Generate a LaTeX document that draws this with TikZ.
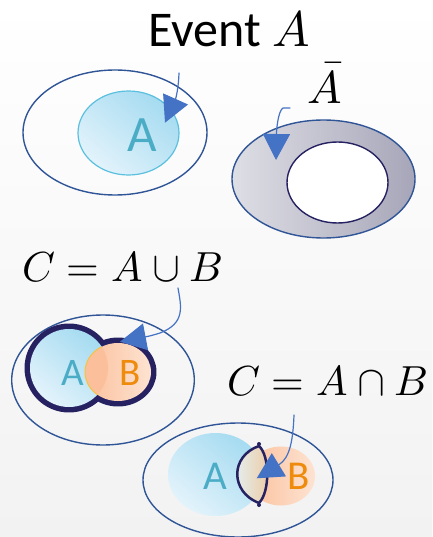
\documentclass[tikz,border=0pt]{standalone}
\usepackage{fontspec}
\usepackage{unicode-math}
\setmainfont{Carlito}
\setmathfont{Latin Modern Math}
\usetikzlibrary{arrows.meta}
\definecolor{rim}{HTML}{2F5597}
\definecolor{pointer}{HTML}{4472C4}
\definecolor{navy}{HTML}{262262}
\definecolor{aqua}{HTML}{4BACC6}
\definecolor{aline}{HTML}{5BC0DE}
\definecolor{alight}{HTML}{E3F3FB}
\definecolor{adark}{HTML}{A5DBF1}
\definecolor{blight}{HTML}{FDE3D2}
\definecolor{bdark}{HTML}{FBC09B}
\definecolor{btext}{HTML}{EE8A0C}
\definecolor{gold}{HTML}{F5C242}
\definecolor{tan}{HTML}{EDCBA3}
\definecolor{ringlight}{HTML}{DEDEE5}
\definecolor{ringdark}{HTML}{A7A6B9}
\definecolor{bggray}{HTML}{F2F2F2}
\tikzset{
  every picture/.style={line join=round, line cap=round},
  space/.style={draw=rim, line width=1.4pt},
  bluefill/.style={top color=adark, bottom color=alight, shading angle=-40},
  orangefill/.style={left color=bdark, right color=blight},
  pointto/.style={draw=pointer, line width=1.2pt, -{Triangle[length=26pt,width=27pt]}},
  letter/.style={anchor=base, inner sep=0pt, font=\fontsize{#1}{#1}\selectfont},
  formula/.style={anchor=base west, inner sep=0pt, font=\fontsize{42}{42}\selectfont},
}
\begin{document}
\begin{tikzpicture}[x=1pt,y=-1pt]
\useasboundingbox (0,0) rectangle (432,537);
\fill[top color=white, bottom color=bggray] (0,0) rectangle (432,537);

% event A
\draw[space] (115,132.5) ellipse[x radius=92, y radius=62.5];
\path[bluefill] (128.5,133) ellipse[x radius=50.5, y radius=42];
\draw[aline, line width=1.2pt] (128.5,133) ellipse[x radius=50.5, y radius=42];
\node[letter=51, text=aqua] (a1) at (142.5,152) {A};
\node[anchor=base west, inner sep=0pt, font=\fontsize{50}{50}\selectfont] (event) at (148,46.7) {Event $A$};

% complement
\path[space, left color=ringlight, right color=ringdark] (323.5,179) ellipse[x radius=91.5, y radius=59];
\draw[navy, fill=white, line width=1.4pt] (337.5,182.5) ellipse[x radius=50.5, y radius=40.5];
\node[letter=46] (abar) at (325,103.3) {$\bar{A}$};

% union
\draw[space] (103,380) ellipse[x radius=91.3, y radius=65];
\draw[navy, line width=11pt] (69,368) circle[radius=39];
\draw[navy, line width=11pt] (118,372) ellipse[x radius=33, y radius=29];
\path[bluefill] (69,368) circle[radius=39];
\path[orangefill] (118,372) ellipse[x radius=33, y radius=29];
\begin{scope}
  \clip (69,368) circle[radius=39];
  \fill[bdark] (118,372) ellipse[x radius=33, y radius=29];
  \draw[gold, line width=1pt] (118,372) ellipse[x radius=33, y radius=29];
\end{scope}
\node[letter=39, text=aqua] (a2) at (73,385) {A};
\node[letter=39, text=btext] (b2) at (130,385) {B};
\node[formula] (cup) at (22,281) {$C = A \cup B$};

% intersection
\draw[space] (238,480) ellipse[x radius=95, y radius=57];
\path[orangefill] (281,476) ellipse[x radius=34, y radius=29.5];
\path[bluefill] (215.5,474.5) ellipse[x radius=47.5, y radius=41.5];
\path[left color=alight, right color=tan] (259,446) .. controls (230,456) and (230,492) .. (259,503) .. controls (270,492) and (270,456) .. cycle;
\draw[navy, line width=2.5pt] (259,446) .. controls (230,456) and (230,492) .. (259,503) .. controls (270,492) and (270,456) .. cycle;
\fill[navy] (259,444) circle[radius=2] (259,505) circle[radius=2];
\node[letter=41, text=aqua] (a3) at (215,489.3) {A};
\node[letter=41, text=btext] (b3) at (298.5,489.3) {B};
\node[formula] (cap) at (227,395) {$C = A \cap B$};

% pointers
\coordinate (evt-from) at (179,73);
\coordinate (evt-to) at (165,122.7);
\coordinate (bar-from) at (290,108);
\coordinate (bar-to) at (276,160);
\coordinate (cup-from) at (178,288);
\coordinate (cup-to) at (120,341.7);
\coordinate (cap-from) at (294,415);
\coordinate (cap-to) at (256.7,478.3);
\draw[pointto] (evt-from) .. controls (178.5,88) and (176,98) .. (evt-to);
\draw[pointto] (bar-from) -- (283,108) .. controls (278,111) and (276.5,130) .. (bar-to);
\draw[pointto] (cup-from) .. controls (181,306) and (186,323) .. (160,333) .. controls (150,336) .. (cup-to);
\draw[pointto] (cap-from) .. controls (293,440) and (290,458) .. (cap-to);
\end{tikzpicture}
\end{document}
